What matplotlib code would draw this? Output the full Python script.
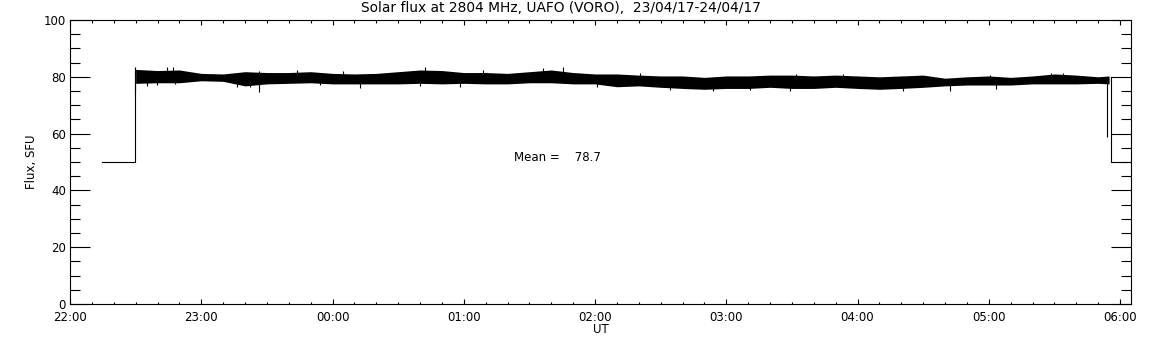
import numpy as np
import matplotlib
matplotlib.use('Agg')
import matplotlib.pyplot as plt
from matplotlib.ticker import MultipleLocator, FixedLocator

# time in minutes after 22:00 UT (23/04/17)
band_t = [30, 40, 50, 60, 70, 80, 90, 100, 110,
          120, 130, 140, 150, 160, 170, 180, 190, 200,
          210, 220, 230, 240, 250, 260, 270, 280, 290, 300,
          310, 320, 330, 340, 350, 360, 370, 380, 390,
          400, 410, 420, 430, 440, 450, 460, 470, 475]
band_hi = [82.6, 82.2, 82.4, 81.2, 81.0, 81.8, 81.5, 81.5, 81.8,
           81.2, 81.0, 81.2, 81.8, 82.4, 82.2, 81.5, 81.5, 81.2,
           81.8, 82.4, 81.5, 81.0, 81.0, 80.6, 80.3, 80.3, 79.8, 80.3,
           80.3, 80.6, 80.6, 80.3, 80.6, 80.3, 80.0, 80.3, 80.6,
           79.5, 80.0, 80.3, 79.8, 80.3, 81.0, 80.6, 80.0, 80.3]
band_lo = [77.7, 77.9, 77.9, 78.6, 78.4, 76.8, 77.5, 77.7, 77.9,
           77.5, 77.5, 77.5, 77.5, 77.7, 77.5, 77.7, 77.5, 77.5,
           77.9, 77.9, 77.5, 77.5, 76.5, 76.8, 76.3, 75.9, 75.6, 75.9,
           75.9, 76.3, 75.9, 75.9, 76.3, 75.9, 75.6, 75.9, 76.3,
           76.8, 77.1, 77.1, 77.1, 77.5, 77.5, 77.5, 77.7, 77.5]

# flat calibration levels before and after the observation
pre_t = [14.6, 29.5]
pre_v = [50, 50]
post_t = [475.7, 475.7, 490]
post_v = [80, 50, 50]

# single spikes seen above / below the band (time, low, high)
spike_t = [29.5, 86.5, 474.2,
           29.7, 44.2, 47.2, 103.6, 124.9, 162.2, 188.9, 216.3, 225.5, 260.5,
           332.0, 353.4, 420.4, 448.6, 454.0,
           35.0, 39.6, 48.0, 76.2, 82.3, 114.3, 132.5, 160.0, 178.2,
           240.7, 274.2, 294.0, 310.8, 329.0, 380.8, 402.2, 423.5]
spike_lo = [74.4, 74.8, 58.9,
            80.0, 80.0, 80.0, 80.0, 79.5, 79.5, 79.5, 79.5, 79.5, 79.0,
            78.5, 78.5, 78.5, 79.0, 79.0,
            76.8, 77.1, 77.5, 76.5, 76.5, 77.1, 75.9, 76.8, 76.5,
            76.3, 75.4, 75.1, 75.4, 75.1, 75.1, 75.1, 75.6]
spike_hi = [83.0, 82.0, 80.0,
            83.6, 83.3, 83.3, 82.4, 82.2, 83.3, 82.4, 83.0, 83.6, 81.5,
            81.0, 81.0, 80.6, 81.5, 81.2,
            79.5, 79.5, 79.5, 79.0, 79.0, 79.5, 79.0, 79.0, 79.0,
            78.5, 78.0, 78.0, 78.0, 78.0, 78.0, 78.0, 78.5]

mean_flux = 78.7
xtick_labels = ['22:00', '23:00', '00:00', '01:00', '02:00', '03:00', '04:00', '05:00', '06:00']

plt.rcParams['font.family'] = 'DejaVu Sans'
fig = plt.figure(figsize=(11.52, 3.45), dpi=100)
ax = fig.add_axes([70 / 1152, 41 / 345, 1061 / 1152, 284 / 345])

lw = 0.8
ax.fill_between(band_t, band_lo, band_hi, color='black', lw=0)
ax.plot(pre_t + [pre_t[-1]], pre_v + [band_lo[0]], color='black', lw=lw)
ax.plot(post_t, post_v, color='black', lw=lw)
ax.vlines(spike_t, spike_lo, spike_hi, color='black', lw=lw)

ax.set_xlim(0, 485)
ax.set_ylim(0, 100)
ax.xaxis.set_major_locator(FixedLocator(np.arange(len(xtick_labels)) * 60))
ax.set_xticklabels(xtick_labels)
ax.xaxis.set_minor_locator(MultipleLocator(10))
ax.yaxis.set_major_locator(MultipleLocator(20))
ax.yaxis.set_minor_locator(MultipleLocator(5))

ax.tick_params(axis='x', which='major', direction='in', length=3.6, width=0.8,
               top=True, labelsize=8.5, pad=5)
ax.tick_params(axis='x', which='minor', direction='in', length=1.8, width=0.8, top=True)
ax.tick_params(axis='y', which='major', direction='in', length=14.4, width=0.8,
               right=True, labelsize=8.5, pad=3)
ax.tick_params(axis='y', which='minor', direction='in', length=7.2, width=0.8, right=True)
for s in ax.spines.values():
    s.set_linewidth(0.8)

ax.set_xlabel('UT', fontsize=8.5, labelpad=-1)
ax.set_ylabel('Flux, SFU', fontsize=8.5, labelpad=4)
fig.text(561 / 1152, 1 - 8 / 345, 'Solar flux at 2804 MHz, UAFO (VORO),  23/04/17-24/04/17',
         fontsize=9.9, ha='center', va='center')
ax.text(203, 49.2, 'Mean =    ' + str(mean_flux), fontsize=8.5, va='bottom')

plt.savefig('out.png', dpi=100)
